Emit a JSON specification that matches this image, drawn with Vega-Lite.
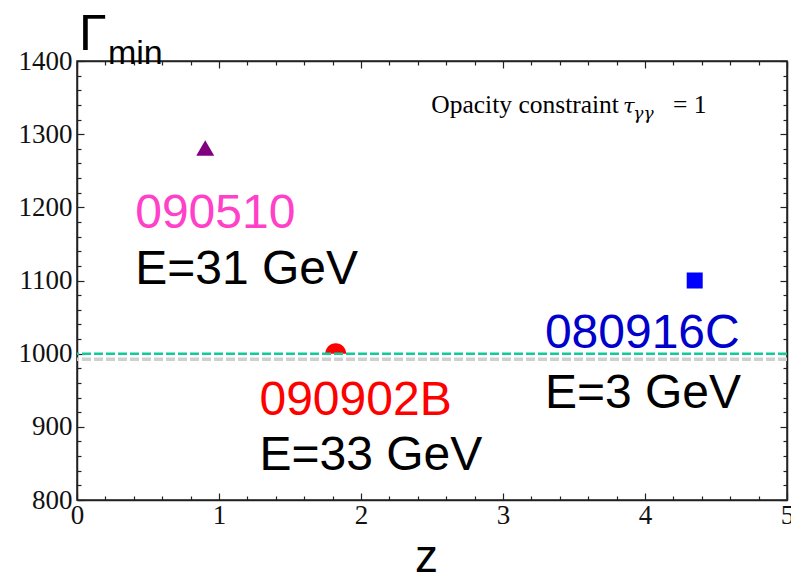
{
  "$schema": "https://vega.github.io/schema/vega-lite/v6.json",
  "width": 710,
  "height": 439,
  "autosize": {"type": "none"},
  "padding": {"left": 77, "top": 61, "right": 4, "bottom": 80},
  "background": "white",
  "config": {
    "view": {"stroke": "#222", "strokeWidth": 1.5},
    "axis": {
      "grid": false,
      "domainColor": "#222",
      "domainWidth": 1.5,
      "tickColor": "#222",
      "tickWidth": 1.2,
      "labelFont": "Liberation Serif",
      "labelFontSize": 27,
      "labelColor": "#111",
      "labelOverlap": false,
      "labelFlush": false
    }
  },
  "datasets": {
    "bursts": [
      {"z": 0.903, "gamma": 1281, "grb": "090510"},
      {"z": 1.822, "gamma": 1000, "grb": "090902B"},
      {"z": 4.35, "gamma": 1100, "grb": "080916C"}
    ],
    "limits": [
      {"gamma": 992.5, "kind": "lower"},
      {"gamma": 1000, "kind": "opacity"}
    ],
    "labels": [
      {"z": 0.41, "gamma": 1172, "text": "090510", "role": "090510"},
      {"z": 0.41, "gamma": 1095, "text": "E=31 GeV", "role": "energy"},
      {"z": 1.285, "gamma": 916, "text": "090902B", "role": "090902B"},
      {"z": 1.285, "gamma": 841, "text": "E=33 GeV", "role": "energy"},
      {"z": 3.295, "gamma": 1008, "text": "080916C", "role": "080916C"},
      {"z": 3.295, "gamma": 926, "text": "E=3 GeV", "role": "energy"}
    ],
    "caption": [
      {"z": 2.495, "gamma": 1328.5, "text": "Opacity constraint", "part": "body"},
      {"z": 3.845, "gamma": 1328.5, "text": "τ", "part": "tau"},
      {"z": 3.918, "gamma": 1321, "text": "γγ", "part": "sub"},
      {"z": 4.197, "gamma": 1328.5, "text": "= 1", "part": "eq"}
    ],
    "ylabel": [
      {"z": 0.014, "gamma": 1415, "text": "Γ", "part": "main"},
      {"z": 0.218, "gamma": 1396, "text": "min", "part": "sub"}
    ]
  },
  "layer": [
    {
      "data": {"name": "bursts"},
      "transform": [{"filter": "datum.grb === '090510'"}],
      "mark": {"type": "point", "shape": "triangle-up", "filled": true, "size": 324, "color": "#800080", "opacity": 1},
      "encoding": {
        "x": {
          "field": "z", "type": "quantitative",
          "scale": {"domain": [0, 5], "nice": false, "zero": false},
          "axis": {
            "orient": "bottom",
            "values": [0, 0.2, 0.4, 0.6, 0.8, 1, 1.2, 1.4, 1.6, 1.8, 2, 2.2, 2.4, 2.6, 2.8, 3, 3.2, 3.4, 3.6, 3.8, 4, 4.2, 4.4, 4.6, 4.8, 5],
            "labelExpr": "abs(datum.value - round(datum.value)) < 0.001 ? format(datum.value, 'd') : ''",
            "tickSize": {"condition": {"test": "abs(datum.value - round(datum.value)) < 0.001", "value": -7}, "value": -4},
            "labelPadding": 9,
            "title": "z",
            "titleFont": "Liberation Sans",
            "titleFontSize": 46,
            "titleFontWeight": "normal",
            "titleColor": "#000",
            "titlePadding": 4,
            "titleX": 349
          }
        },
        "y": {
          "field": "gamma", "type": "quantitative",
          "scale": {"domain": [800, 1400], "nice": false, "zero": false},
          "axis": {
            "orient": "left",
            "values": [800, 820, 840, 860, 880, 900, 920, 940, 960, 980, 1000, 1020, 1040, 1060, 1080, 1100, 1120, 1140, 1160, 1180, 1200, 1220, 1240, 1260, 1280, 1300, 1320, 1340, 1360, 1380, 1400],
            "labelExpr": "datum.value % 100 === 0 ? format(datum.value, 'd') : ''",
            "tickSize": {"condition": {"test": "datum.value % 100 === 0", "value": -7}, "value": -4},
            "labelPadding": 12,
            "title": null
          }
        }
      }
    },
    {
      "data": {"name": "bursts"},
      "transform": [{"filter": "datum.grb === '090902B'"}],
      "mark": {"type": "point", "shape": "M -1 0 A 1 1 0 0 1 1 0 Z", "filled": true, "size": 441, "color": "#ff0000", "opacity": 1},
      "encoding": {
        "x": {"field": "z", "type": "quantitative", "scale": {"domain": [0, 5], "nice": false, "zero": false}, "axis": null},
        "y": {"field": "gamma", "type": "quantitative", "scale": {"domain": [800, 1400], "nice": false, "zero": false}, "axis": null}
      }
    },
    {
      "data": {"name": "bursts"},
      "transform": [{"filter": "datum.grb === '080916C'"}],
      "mark": {"type": "point", "shape": "square", "filled": true, "size": 256, "color": "#0000ff", "opacity": 1},
      "encoding": {
        "x": {"field": "z", "type": "quantitative", "scale": {"domain": [0, 5], "nice": false, "zero": false}, "axis": null},
        "y": {"field": "gamma", "type": "quantitative", "scale": {"domain": [800, 1400], "nice": false, "zero": false}, "axis": null}
      }
    },
    {
      "data": {"name": "limits"},
      "transform": [{"filter": "datum.kind === 'lower'"}],
      "mark": {"type": "rule", "color": "#cfcfcf", "strokeWidth": 3.5, "strokeDash": [9, 3]},
      "encoding": {
        "y": {"field": "gamma", "type": "quantitative", "scale": {"domain": [800, 1400], "nice": false, "zero": false}, "axis": null}
      }
    },
    {
      "data": {"name": "limits"},
      "transform": [{"filter": "datum.kind === 'opacity'"}],
      "mark": {"type": "rule", "color": "#10cc9a", "strokeWidth": 2.5, "strokeDash": [9, 3]},
      "encoding": {
        "y": {
          "field": "gamma", "type": "quantitative",
          "scale": {"domain": [800, 1400], "nice": false, "zero": false},
          "axis": {
            "orient": "right",
            "values": [800, 820, 840, 860, 880, 900, 920, 940, 960, 980, 1000, 1020, 1040, 1060, 1080, 1100, 1120, 1140, 1160, 1180, 1200, 1220, 1240, 1260, 1280, 1300, 1320, 1340, 1360, 1380, 1400],
            "labels": false,
            "tickSize": {"condition": {"test": "datum.value % 100 === 0", "value": -7}, "value": -4},
            "title": null
          }
        }
      }
    },
    {
      "data": {"name": "labels"},
      "mark": {"type": "text", "font": "Liberation Sans", "fontSize": 48, "align": "left", "baseline": "alphabetic", "clip": false},
      "encoding": {
        "x": {
          "field": "z", "type": "quantitative",
          "scale": {"domain": [0, 5], "nice": false, "zero": false},
          "axis": {
            "orient": "top",
            "values": [0, 0.2, 0.4, 0.6, 0.8, 1, 1.2, 1.4, 1.6, 1.8, 2, 2.2, 2.4, 2.6, 2.8, 3, 3.2, 3.4, 3.6, 3.8, 4, 4.2, 4.4, 4.6, 4.8, 5],
            "labels": false,
            "tickSize": {"condition": {"test": "abs(datum.value - round(datum.value)) < 0.001", "value": -7}, "value": -4},
            "title": null
          }
        },
        "y": {"field": "gamma", "type": "quantitative", "scale": {"domain": [800, 1400], "nice": false, "zero": false}, "axis": null},
        "text": {"field": "text"},
        "color": {
          "field": "role", "type": "nominal",
          "scale": {"domain": ["090510", "090902B", "080916C", "energy"], "range": ["#ff40c8", "#ff0000", "#0000cc", "#000000"]},
          "legend": null
        }
      }
    },
    {
      "data": {"name": "caption"},
      "transform": [{"filter": "datum.part === 'body' || datum.part === 'eq'"}],
      "mark": {"type": "text", "font": "Liberation Serif", "fontSize": 25.5, "align": "left", "baseline": "alphabetic", "color": "#000"},
      "encoding": {
        "x": {"field": "z", "type": "quantitative", "scale": {"domain": [0, 5], "nice": false, "zero": false}, "axis": null},
        "y": {"field": "gamma", "type": "quantitative", "scale": {"domain": [800, 1400], "nice": false, "zero": false}, "axis": null},
        "text": {"field": "text"}
      }
    },
    {
      "data": {"name": "caption"},
      "transform": [{"filter": "datum.part === 'tau'"}],
      "mark": {"type": "text", "font": "DejaVu Serif", "fontSize": 21, "fontStyle": "italic", "align": "left", "baseline": "alphabetic", "color": "#000"},
      "encoding": {
        "x": {"field": "z", "type": "quantitative", "scale": {"domain": [0, 5], "nice": false, "zero": false}, "axis": null},
        "y": {"field": "gamma", "type": "quantitative", "scale": {"domain": [800, 1400], "nice": false, "zero": false}, "axis": null},
        "text": {"field": "text"}
      }
    },
    {
      "data": {"name": "caption"},
      "transform": [{"filter": "datum.part === 'sub'"}],
      "mark": {"type": "text", "font": "DejaVu Serif", "fontSize": 17, "fontStyle": "italic", "align": "left", "baseline": "alphabetic", "color": "#000"},
      "encoding": {
        "x": {"field": "z", "type": "quantitative", "scale": {"domain": [0, 5], "nice": false, "zero": false}, "axis": null},
        "y": {"field": "gamma", "type": "quantitative", "scale": {"domain": [800, 1400], "nice": false, "zero": false}, "axis": null},
        "text": {"field": "text"}
      }
    },
    {
      "data": {"name": "ylabel"},
      "transform": [{"filter": "datum.part === 'main'"}],
      "mark": {"type": "text", "font": "Liberation Sans", "fontSize": 50, "align": "left", "baseline": "alphabetic", "color": "#000", "clip": false},
      "encoding": {
        "x": {"field": "z", "type": "quantitative", "scale": {"domain": [0, 5], "nice": false, "zero": false}, "axis": null},
        "y": {"field": "gamma", "type": "quantitative", "scale": {"domain": [800, 1400], "nice": false, "zero": false}, "axis": null},
        "text": {"field": "text"}
      }
    },
    {
      "data": {"name": "ylabel"},
      "transform": [{"filter": "datum.part === 'sub'"}],
      "mark": {"type": "text", "font": "Liberation Sans", "fontSize": 34, "align": "left", "baseline": "alphabetic", "color": "#000", "clip": false},
      "encoding": {
        "x": {"field": "z", "type": "quantitative", "scale": {"domain": [0, 5], "nice": false, "zero": false}, "axis": null},
        "y": {"field": "gamma", "type": "quantitative", "scale": {"domain": [800, 1400], "nice": false, "zero": false}, "axis": null},
        "text": {"field": "text"}
      }
    }
  ],
  "resolve": {"axis": {"x": "independent", "y": "independent"}}
}
